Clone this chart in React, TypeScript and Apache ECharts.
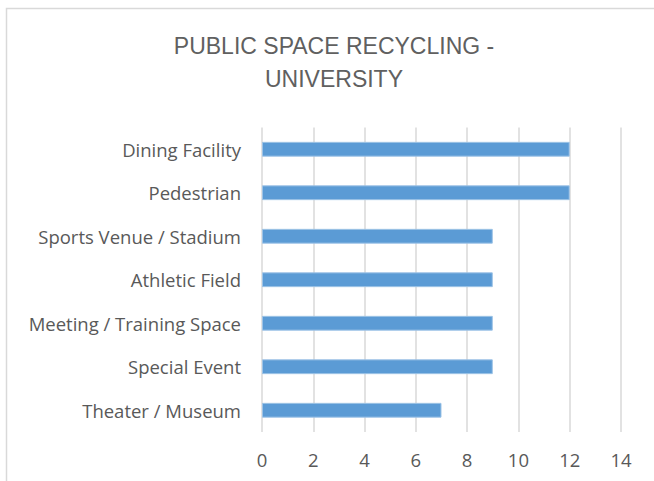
import React, { useEffect, useRef } from "react";
import * as echarts from "echarts";

const categories = [
  "Theater / Museum",
  "Special Event",
  "Meeting / Training Space",
  "Athletic Field",
  "Sports Venue / Stadium",
  "Pedestrian",
  "Dining Facility",
];
const values = [7, 9, 9, 9, 9, 12, 12];
const titleLines = ["PUBLIC SPACE RECYCLING -", "UNIVERSITY"];

const FONT = "'Open Sans', sans-serif";
const TITLE_FONT = "'Liberation Sans', sans-serif";
const TEXT = "#595959";

export default function App() {
  const ref = useRef<HTMLDivElement>(null);
  useEffect(() => {
    if (!ref.current) return;
    const chart = echarts.init(ref.current, null, { renderer: "svg" });
    chart.setOption({
      animation: false,
      backgroundColor: "#ffffff",
      graphic: [
        {
          type: "rect",
          shape: { x: 6.5, y: 8.5, width: 700, height: 600 },
          style: { fill: "none", stroke: "#d9d9d9", lineWidth: 1.5 },
          silent: true,
        },
        {
          type: "text",
          x: 334,
          y: 46,
          style: {
            text: titleLines[0],
            font: `23px ${TITLE_FONT}`,
            fill: "#606060",
            textAlign: "center",
            textVerticalAlign: "middle",
          },
        },
        {
          type: "text",
          x: 334,
          y: 79,
          style: {
            text: titleLines[1],
            font: `23px ${TITLE_FONT}`,
            fill: "#606060",
            textAlign: "center",
            textVerticalAlign: "middle",
          },
        },
      ],
      grid: { left: 262, right: 33, top: 127.5, bottom: 49, containLabel: false },
      xAxis: {
        type: "value",
        min: 0,
        max: 14,
        interval: 2,
        axisLine: { show: false },
        axisTick: { show: false },
        splitLine: { lineStyle: { color: "#d9d9d9", width: 1.5 } },
        axisLabel: { color: TEXT, fontFamily: FONT, fontSize: 18.5, margin: 18 },
      },
      yAxis: {
        type: "category",
        data: categories,
        axisLine: { show: false },
        axisTick: { show: false },
        axisLabel: {
          color: TEXT,
          fontFamily: FONT,
          fontSize: 18.5,
          margin: 21,
          padding: [0, 0, 3, 0],
        },
      },
      series: [
        {
          type: "bar",
          data: values,
          barWidth: "34%",
          itemStyle: { color: "#5b9bd5", borderColor: "#9dc3e6", borderWidth: 1 },
        },
      ],
    });
    return () => chart.dispose();
  }, []);
  return (
    <div
      ref={ref}
      style={{ position: "absolute", left: 0, top: 0, width: 654, height: 481 }}
    />
  );
}
